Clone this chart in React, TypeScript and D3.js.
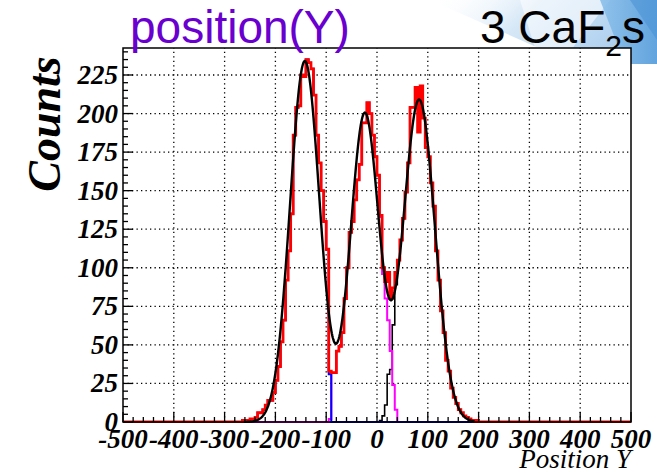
import React from "react";
import * as d3 from "d3";

// ---------- data ----------
const BIN_WIDTH = 5;
const X_DOMAIN = [-500, 500];
const Y_TOP = 242.5;

const xTickValues = [-500, -400, -300, -200, -100, 0, 100, 200, 300, 400, 500];
const yTickValues = [0, 25, 50, 75, 100, 125, 150, 175, 200, 225];

// total histogram (red), first bin starts at -265
const totalStart = -265;
const totalCounts = [
  1, 0, 1, 2, 2, 3, 6, 6, 8, 11,
  14, 14, 19, 27, 36, 52, 66, 92, 111, 135,
  186, 204, 205, 225, 224, 235, 233, 229, 212, 186,
  168, 150, 130, 112, 33, 32, 32, 46, 49, 58,
  80, 100, 123, 130, 144, 157, 167, 194, 194, 207,
  200, 186, 172, 160, 134, 100, 91, 97, 80, 87,
  97, 105, 118, 132, 149, 168, 204, 204, 217, 188,
  218, 197, 178, 172, 155, 140, 111, 92, 72, 58,
  40, 33, 22, 16, 12, 8, 6, 4, 3, 2,
  1, 0, 1,
];

// left crystal (blue), first bin starts at -265
const leftStart = -265;
const leftCounts = [
  1, 0, 1, 2, 2, 3, 6, 6, 8, 11,
  14, 14, 19, 27, 36, 52, 66, 92, 111, 135,
  186, 204, 205, 225, 224, 235, 233, 229, 212, 186,
  168, 150, 130, 112, 31,
];

// middle crystal (magenta), first bin starts at -95
const midStart = -95;
const midCounts = [
  2, 32, 32, 46, 49, 58, 80, 100, 123, 130,
  144, 157, 167, 194, 194, 207, 200, 186, 172, 160,
  133, 96, 80, 66, 46, 24, 8,
];

// right crystal (black steps), first bin starts at 5
const rightStart = 5;
const rightCounts = [
  1, 4, 11, 31, 34, 63, 89, 105, 118, 132,
  149, 168, 204, 204, 217, 188, 218, 197, 178, 172,
  155, 140, 111, 92, 72, 58, 40, 33, 22, 16,
  12, 8, 6, 4, 3, 2, 1, 0, 1,
];

// three-gaussian fit (black curve)
const fitAmplitudes = [234, 200, 209];
const fitMeans = [-142, -24, 83];
const fitSigmas = [29, 28, 31];
const fitRange = [-262, 192];

// ---------- layout ----------
const W = 657;
const H = 473;
const FL = 123;
const FR = 631;
const FT = 48;
const FB = 422;

export default function App() {
  const x = d3.scaleLinear().domain(X_DOMAIN).range([FL, FR]);
  const y = d3.scaleLinear().domain([0, Y_TOP]).range([FB, FT]);

  const histPath = (start: number, counts: number[]) => {
    let d = `M${x(X_DOMAIN[0])},${y(0)}H${x(start)}`;
    counts.forEach((c, i) => {
      d += `V${y(c)}H${x(start + (i + 1) * BIN_WIDTH)}`;
    });
    d += `V${y(0)}H${x(X_DOMAIN[1])}`;
    return d;
  };

  const fitFn = (v: number) =>
    fitAmplitudes.reduce(
      (s, a, i) => s + a * Math.exp(-((v - fitMeans[i]) ** 2) / (2 * fitSigmas[i] ** 2)),
      0
    );
  const fitXs = d3.range(fitRange[0], fitRange[1] + 0.01, 1);
  const fitLine = d3
    .line<number>()
    .x((v) => x(v))
    .y((v) => y(fitFn(v)))
    .curve(d3.curveLinear);

  const xMinor = d3.range(X_DOMAIN[0], X_DOMAIN[1] + 0.01, 20);
  const yMinor = d3.range(0, Y_TOP, 5);

  const serif = "'Liberation Serif', 'Times New Roman', serif";
  const sans = "'Liberation Sans', Arial, Helvetica, sans-serif";

  return (
    <svg width={W} height={H} style={{ position: "absolute", left: 0, top: 0, background: "#fff" }}>
      <defs>
        <linearGradient id="bgA" x1="0" y1="0" x2="1" y2="0.3">
          <stop offset="0" stopColor="#ffffff" stopOpacity="0" />
          <stop offset="0.45" stopColor="#d7e8f7" stopOpacity="1" />
          <stop offset="1" stopColor="#a9cdee" stopOpacity="1" />
        </linearGradient>
        <linearGradient id="bgB" x1="0" y1="0" x2="1" y2="0">
          <stop offset="0" stopColor="#8cc0ea" />
          <stop offset="1" stopColor="#5a9fdc" />
        </linearGradient>
        <clipPath id="frameClip">
          <rect x={FL} y={FT} width={FR - FL} height={FB - FT + 1} />
        </clipPath>
      </defs>

      {/* top-right decoration */}
      <polygon points="430,0 657,0 657,64 575,64" fill="url(#bgA)" />
      <polygon points="520,0 610,0 560,64 540,64" fill="#ffffff" opacity="0.55" />
      <polygon points="600,0 657,0 657,64 625,64" fill="url(#bgB)" opacity="0.9" />
      <polygon points="630,0 657,0 657,40" fill="#4b93d6" opacity="0.6" />

      {/* plot area */}
      <rect x={FL} y={FT} width={FR - FL} height={FB - FT} fill="#fff" />

      {/* grid */}
      <g stroke="#000" strokeWidth={1.3} strokeDasharray="1.3,3.2">
        {xTickValues.slice(1, -1).map((v) => (
          <line key={"gx" + v} x1={x(v)} x2={x(v)} y1={FB} y2={FT} />
        ))}
        {yTickValues.slice(1).map((v) => (
          <line key={"gy" + v} x1={FL} x2={FR} y1={y(v)} y2={y(v)} />
        ))}
      </g>

      {/* histograms */}
      <g clipPath="url(#frameClip)" fill="none" strokeLinejoin="miter">
        <path d={histPath(rightStart, rightCounts)} stroke="#000" strokeWidth={1.6} />
        <path d={histPath(midStart, midCounts)} stroke="#ff00ff" strokeWidth={2} />
        <path d={histPath(leftStart, leftCounts)} stroke="#0000ff" strokeWidth={2} />
        <path d={histPath(totalStart, totalCounts)} stroke="#ff0000" strokeWidth={2.8} />
        <path d={fitLine(fitXs) || ""} stroke="#000" strokeWidth={2.4} />
      </g>

      {/* frame */}
      <rect x={FL} y={FT} width={FR - FL} height={FB - FT} fill="none" stroke="#000" strokeWidth={1.5} />

      {/* ticks */}
      <g stroke="#000" strokeWidth={1.3}>
        {yMinor.map((v) => (
          <line key={"ym" + v} x1={FL} x2={FL + (v % 25 === 0 ? 10 : 5)} y1={y(v)} y2={y(v)} />
        ))}
        {xMinor.map((v) => (
          <line key={"xm" + v} x1={x(v)} x2={x(v)} y1={FB} y2={FB - (v % 100 === 0 ? 10 : 5)} />
        ))}
      </g>

      {/* tick labels */}
      <g fontFamily={serif} fontWeight="bold" fontStyle="italic" fontSize={27} fill="#000">
        {yTickValues.map((v) => (
          <text key={"yl" + v} x={FL - 5} y={y(v) + 9} textAnchor="end">
            {v}
          </text>
        ))}
        {xTickValues.map((v) => (
          <text key={"xl" + v} x={x(v)} y={448} textAnchor="middle">
            {v}
          </text>
        ))}
      </g>

      {/* axis titles */}
      <text
        transform={`translate(60,124) rotate(-90)`}
        textAnchor="middle"
        fontFamily={serif}
        fontWeight="bold"
        fontStyle="italic"
        fontSize={46}
      >
        Counts
      </text>
      <text x={FR} y={468} textAnchor="end" fontFamily={serif} fontStyle="italic" fontSize={27}>
        Position Y
      </text>

      {/* titles */}
      <text x={130} y={43} fontFamily={sans} fontSize={46} fill="#6a00d0">
        position(Y)
      </text>
      <text x={480} y={43} fontFamily={sans} fontSize={46} fill="#000">
        3 CaF
        <tspan fontSize={30} dy={13}>2</tspan>
        <tspan dy={-13}>s</tspan>
      </text>
    </svg>
  );
}
